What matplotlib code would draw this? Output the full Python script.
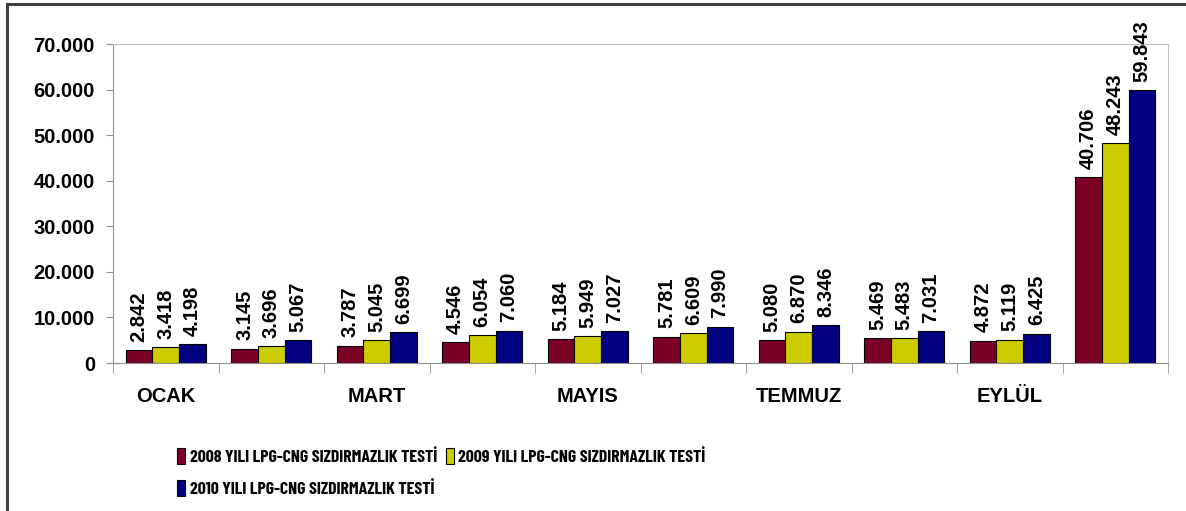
import numpy as np
import matplotlib.pyplot as plt
from matplotlib.lines import Line2D
from matplotlib.ticker import FuncFormatter, FixedLocator

plt.rcParams['font.family'] = ['Liberation Sans', 'DejaVu Sans']
plt.rcParams['font.weight'] = 'bold'

# months (only every other one is labelled in the original)
months = ['OCAK', 'ŞUBAT', 'MART', 'NİSAN', 'MAYIS', 'HAZİRAN',
          'TEMMUZ', 'AĞUSTOS', 'EYLÜL', 'TOPLAM']
shown = ['OCAK', '', 'MART', '', 'MAYIS', '', 'TEMMUZ', '', 'EYLÜL', '']

y2008 = [2842, 3145, 3787, 4546, 5184, 5781, 5080, 5469, 4872, 40706]
y2009 = [3418, 3696, 5045, 6054, 5949, 6609, 6870, 5483, 5119, 48243]
y2010 = [4198, 5067, 6699, 7060, 7027, 7990, 8346, 7031, 6425, 59843]

series = ['2008 YILI LPG-CNG SIZDIRMAZLIK TESTİ',
          '2009 YILI LPG-CNG SIZDIRMAZLIK TESTİ',
          '2010 YILI LPG-CNG SIZDIRMAZLIK TESTİ']
colors = ['#7B0026', '#CCCC00', '#000080']

def dotfmt(v, pos=None):
    return '{:,.0f}'.format(v).replace(',', '.')

fig = plt.figure(figsize=(11.86, 5.11), dpi=100)
ax = fig.add_axes([113 / 1186, 1 - 363 / 511, (1168 - 113) / 1186, (363 - 44) / 511])

x = np.arange(len(months))
w = 0.253
bars = []
for i, (vals, col) in enumerate(zip([y2008, y2009, y2010], colors)):
    b = ax.bar(x + (i - 1) * w, vals, w, color=col, edgecolor='black', linewidth=0.8)
    bars.append(b)
    for xi, v in zip(x + (i - 1) * w, vals):
        ax.annotate(dotfmt(v), (xi, v), xytext=(0, 6), textcoords='offset points',
                    rotation=90, ha='center', va='bottom', fontsize=14.5, fontweight='bold')

ax.set_xlim(-0.5, len(months) - 0.5)
ax.set_ylim(0, 70000)
ax.set_yticks(np.arange(0, 70001, 10000))
ax.yaxis.set_major_formatter(FuncFormatter(dotfmt))
ax.tick_params(axis='y', labelsize=14.5, length=5, color='#909090', pad=8)

ax.set_xticks(x)
ax.set_xticklabels(shown, fontsize=14.5, fontweight='bold')
ax.tick_params(axis='x', which='major', length=0, pad=17)
ax.xaxis.set_minor_locator(FixedLocator(np.arange(-0.5, len(months), 1.0)))
ax.tick_params(axis='x', which='minor', length=7, color='#909090')

for s in ['left', 'bottom']:
    ax.spines[s].set_color('#909090')
for s in ['top', 'right']:
    ax.spines[s].set_color('#c0c0c0')

# outer chart border (top and left visible)
fig.add_artist(Line2D([7 / 1186, 7 / 1186], [0, 1 - 4 / 511], color='#404040', lw=2.2))
fig.add_artist(Line2D([7 / 1186, 1], [1 - 4 / 511, 1 - 4 / 511], color='#404040', lw=2.2))

handles = [bars[0], bars[2], bars[1]]
labels = [series[0], series[2], series[1]]
leg = fig.legend(handles, labels, ncol=2, loc='upper left',
                 bbox_to_anchor=(165 / 1186, 1 - 436 / 511), frameon=False,
                 handlelength=0.45, handleheight=0.95, handletextpad=0.25,
                 columnspacing=0.5, labelspacing=0.85, borderpad=0.2,
                 prop={'family': ['Liberation Sans Narrow', 'Barlow Condensed', 'Liberation Sans'],
                       'weight': 'bold', 'size': 12.8})

fig.savefig('out.png', dpi=100)
